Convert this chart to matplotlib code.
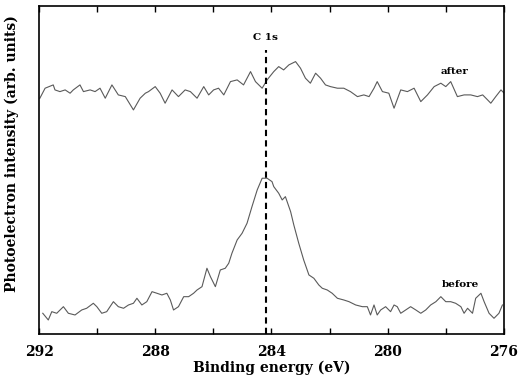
import matplotlib.pyplot as plt
import numpy as np

# C 1s region, spectra measured before and after treatment
energy_after = [291.97, 291.79, 291.51, 291.45, 291.28, 291.10, 290.93, 290.82, 290.59, 290.47,
                290.24, 290.07, 289.90, 289.72, 289.49, 289.27, 289.03, 288.75, 288.52, 288.34,
                288.23, 288.00, 287.83, 287.66, 287.42, 287.20, 286.97, 286.79, 286.56, 286.33,
                286.16, 285.99, 285.82, 285.64, 285.41, 285.18, 284.96, 284.72, 284.55, 284.32,
                284.15, 283.92, 283.75, 283.58, 283.40, 283.17, 283.00, 282.83, 282.66, 282.48,
                282.31, 282.14, 281.97, 281.73, 281.51, 281.28, 281.04, 280.82, 280.64, 280.47,
                280.36, 280.18, 279.96, 279.78, 279.55, 279.32, 279.09, 278.86, 278.63, 278.40,
                278.17, 278.00, 277.83, 277.60, 277.37, 277.14, 276.91, 276.73, 276.56, 276.45,
                276.28, 276.10, 275.99]
intensity_after = [235.7, 245.7, 249.0, 244.0, 242.3, 244.0, 240.7, 244.0, 249.0, 242.3,
                   244.0, 242.3, 245.7, 235.7, 249.0, 239.0, 237.3, 224.0, 235.7, 240.7,
                   242.3, 247.3, 240.7, 230.7, 244.0, 237.3, 244.0, 242.3, 235.7, 247.3,
                   239.0, 244.0, 245.7, 239.0, 252.3, 254.0, 249.0, 262.3, 252.3, 245.7,
                   254.0, 262.3, 267.3, 264.0, 269.0, 272.3, 265.7, 255.7, 250.7, 260.7,
                   255.7, 249.0, 247.3, 245.7, 245.7, 242.3, 237.3, 239.0, 237.3, 245.7,
                   252.3, 242.3, 240.7, 225.7, 244.0, 242.3, 245.7, 232.3, 239.0, 247.3,
                   250.7, 247.3, 252.3, 237.3, 239.0, 239.0, 237.3, 239.0, 234.0, 230.7,
                   237.3, 244.0, 240.7]

energy_before = [291.87, 291.68, 291.56, 291.39, 291.16, 290.99, 290.76, 290.53, 290.36, 290.13,
                 290.01, 289.84, 289.67, 289.44, 289.27, 289.09, 288.92, 288.75, 288.63, 288.46,
                 288.29, 288.11, 287.94, 287.77, 287.60, 287.48, 287.37, 287.20, 287.02, 286.85,
                 286.68, 286.56, 286.39, 286.22, 286.10, 285.93, 285.76, 285.59, 285.47, 285.36,
                 285.18, 285.01, 284.84, 284.67, 284.49, 284.32, 284.15, 283.98, 283.92, 283.75,
                 283.63, 283.52, 283.34, 283.23, 283.06, 282.89, 282.71, 282.54, 282.37, 282.25,
                 282.08, 281.91, 281.73, 281.51, 281.33, 281.10, 280.87, 280.70, 280.59, 280.47,
                 280.36, 280.24, 280.07, 279.90, 279.78, 279.67, 279.55, 279.38, 279.21, 279.03,
                 278.86, 278.69, 278.52, 278.34, 278.17, 278.00, 277.83, 277.66, 277.48, 277.37,
                 277.25, 277.08, 276.97, 276.79, 276.68, 276.51, 276.34, 276.17, 276.05]
intensity_before = [20.7, 14.0, 22.3, 20.7, 27.3, 20.7, 19.0, 24.0, 25.7, 30.7,
                    27.3, 20.7, 22.3, 32.3, 27.3, 25.7, 29.0, 30.7, 35.7, 29.0,
                    32.3, 42.3, 40.7, 39.0, 40.7, 34.0, 24.0, 27.3, 37.3, 37.3,
                    40.7, 44.0, 47.3, 65.7, 57.3, 47.3, 64.0, 65.7, 70.7, 80.7,
                    94.0, 100.7, 110.7, 127.3, 144.0, 155.7, 155.7, 152.3, 147.3, 140.7,
                    134.0, 137.3, 122.3, 109.0, 90.7, 74.0, 59.0, 55.7, 49.0, 45.7,
                    44.0, 40.7, 35.7, 34.0, 32.3, 29.0, 27.3, 27.3, 19.0, 29.0,
                    19.0, 24.0, 27.3, 22.3, 29.0, 27.3, 20.7, 24.0, 27.3, 24.0,
                    20.7, 24.0, 29.0, 32.3, 37.3, 32.3, 32.3, 30.7, 27.3, 20.7,
                    25.7, 20.7, 35.7, 40.7, 32.3, 20.7, 15.7, 20.7, 29.0]

c1s_energy = 284.2
x_ticks = [292, 288, 284, 280, 276]

plt.rcParams['font.family'] = 'DejaVu Serif'
plt.rcParams['font.weight'] = 'bold'

fig = plt.figure(figsize=(5.2, 3.92), dpi=100)
ax = fig.add_axes([0.075, 0.148, 0.894, 0.837])

ax.plot(energy_after, intensity_after, color='#5a5a5a', lw=0.8)
ax.plot(energy_before, intensity_before, color='#5a5a5a', lw=0.8)
ax.axvline(c1s_energy, ymin=0, ymax=0.866, color='black', lw=1.5, ls=(0, (3, 2)))

ax.text(c1s_energy, 292, 'C 1s', ha='center', va='bottom', fontsize=7.5, fontweight='bold')
ax.text(277.7, 258, 'after', ha='center', va='bottom', fontsize=7.5, fontweight='bold')
ax.text(277.5, 45, 'before', ha='center', va='bottom', fontsize=7.5, fontweight='bold')

ax.set_xlim(292, 276)
ax.set_ylim(0, 328)
ax.set_xticks(x_ticks)
ax.set_xticks(np.arange(276, 293, 2), minor=True)
ax.set_yticks([])
ax.tick_params(axis='x', which='both', direction='in', top=True, length=4, width=1)
ax.tick_params(axis='x', labelsize=10, pad=8)
for lab in ax.get_xticklabels():
    lab.set_fontweight('bold')
for s in ax.spines.values():
    s.set_linewidth(1.2)

ax.set_xlabel('Binding energy (eV)', fontsize=10, fontweight='bold', labelpad=1)
ax.set_ylabel('Photoelectron intensity (arb. units)', fontsize=10, fontweight='bold')
ax.yaxis.set_label_coords(-0.043, 0.55)

fig.savefig('out.png', dpi=100)
